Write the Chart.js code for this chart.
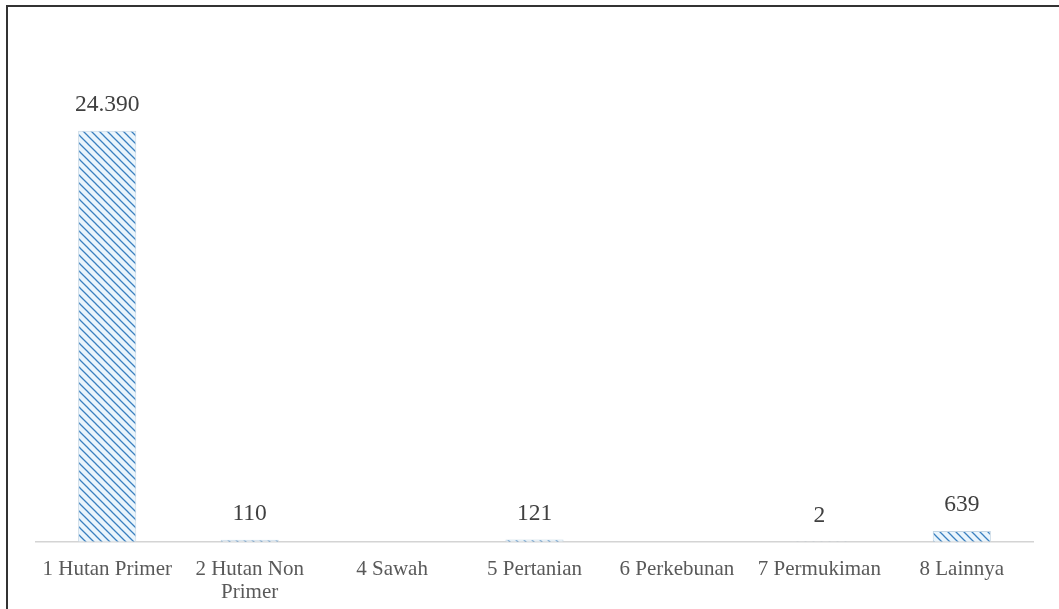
<!DOCTYPE html>
<html>
<head>
<meta charset="utf-8">
<script src="https://cdn.jsdelivr.net/npm/chart.js@4"></script>
<style>
  html, body { margin: 0; padding: 0; background: #fff; overflow: hidden; }
  #wrap { position: relative; width: 1059px; height: 609px; }
  #frame {
    position: absolute; left: 6px; top: 5px; right: 0; bottom: 0;
    border-top: 2px solid #333; border-left: 2px solid #333;
  }
</style>
</head>
<body>
<div id="wrap">
  <div id="frame"></div>
  <canvas id="landChart" width="1059" height="609"></canvas>
</div>
<script>
const categories = ['1 Hutan Primer', ['2 Hutan Non', 'Primer'], '4 Sawah', '5 Pertanian', '6 Perkebunan', '7 Permukiman', '8 Lainnya'];
const areaValues = [24390, 110, null, 121, null, 2, 639];

// diagonal hatch like the original bars
function hatch() {
    const c = document.createElement('canvas');
    c.width = 8; c.height = 8;
    const g = c.getContext('2d');
    g.fillStyle = '#eaf5fc';
    g.fillRect(0, 0, 8, 8);
    g.strokeStyle = '#3a80c0';
    g.lineWidth = 1.3;
    g.beginPath();
    g.moveTo(-1, -1); g.lineTo(9, 9);
    g.moveTo(-1, 7); g.lineTo(1, 9);
    g.moveTo(7, -1); g.lineTo(9, 1);
    g.stroke();
    return g.createPattern(c, 'repeat');
}

const fmt = v => String(v).replace(/\B(?=(\d{3})+(?!\d))/g, '.');

const valueLabels = {
    id: 'valueLabels',
    afterDatasetsDraw(chart) {
        const ctx = chart.ctx;
        const meta = chart.getDatasetMeta(0);
        ctx.save();
        ctx.font = '23.5px "Liberation Serif"';
        ctx.fillStyle = '#404040';
        ctx.textAlign = 'center';
        ctx.textBaseline = 'middle';
        meta.data.forEach((bar, i) => {
            const v = areaValues[i];
            if (v === null) return;
            ctx.fillText(fmt(v), bar.x, bar.y - 26);
        });
        ctx.restore();
    }
};

const ctx = document.getElementById('landChart').getContext('2d');

new Chart(ctx, {
    type: 'bar',
    data: {
        labels: categories,
        datasets: [
            {
                data: areaValues,
                backgroundColor: hatch(),
                borderColor: '#c3d5e3',
                borderWidth: 1,
                barPercentage: 0.68,
                categoryPercentage: 0.6
            }
        ]
    },
    options: {
        responsive: false,
        animation: false,
        layout: { padding: { left: 36, right: 26, top: 70, bottom: -12 } },
        plugins: {
            legend: { display: false },
            tooltip: { enabled: false }
        },
        scales: {
            x: {
                grid: { display: false, drawTicks: false },
                border: { display: true, color: '#d4d4d4', width: 1.5 },
                ticks: {
                    padding: 17,
                    maxRotation: 0,
                    autoSkip: false,
                    color: '#595959',
                    font: { family: 'Liberation Serif', size: 21, lineHeight: 1.08 }
                }
            },
            y: {
                display: false,
                min: 0,
                max: 28000
            }
        }
    },
    plugins: [valueLabels]
});
</script>
</body>
</html>
